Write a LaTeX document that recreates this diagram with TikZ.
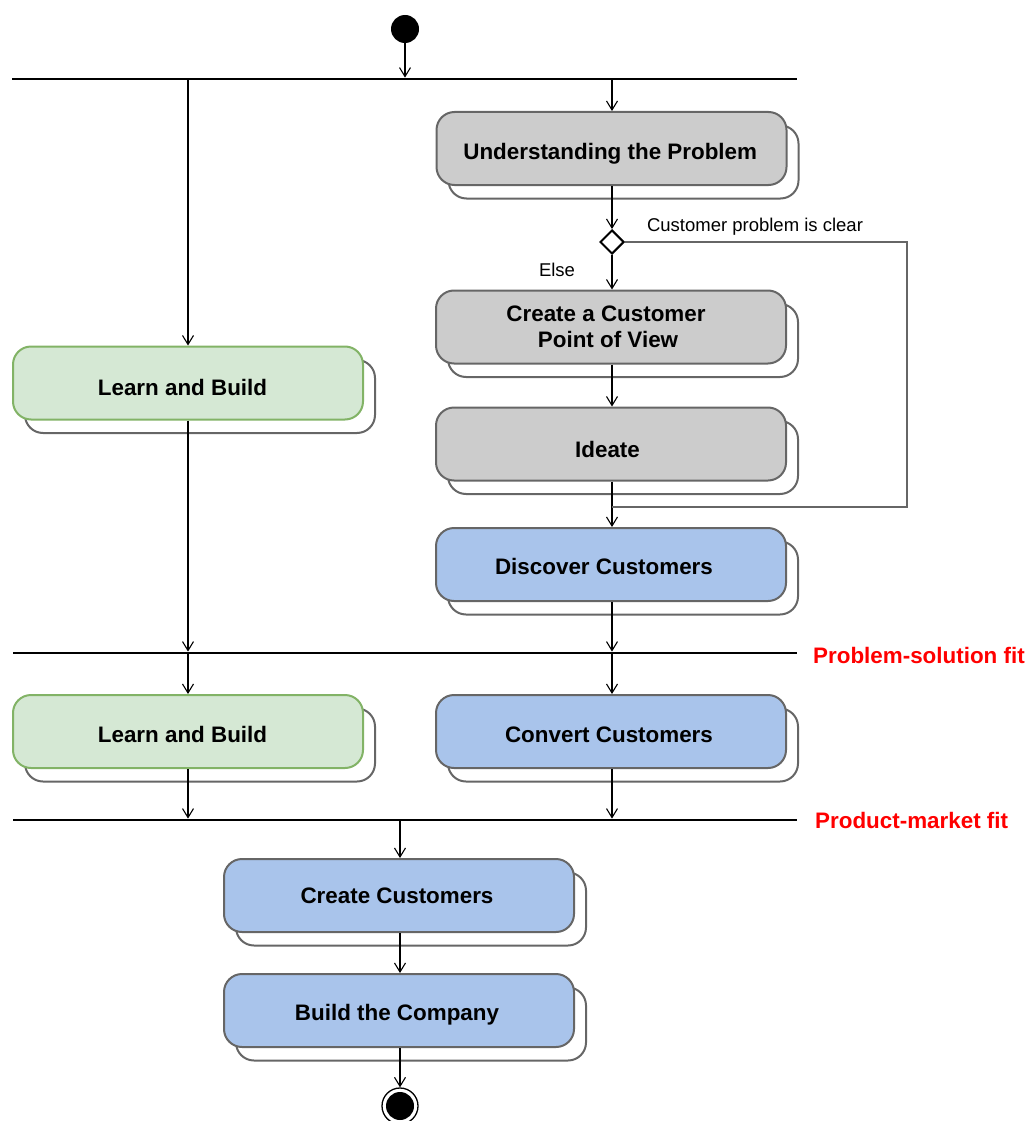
\documentclass[tikz,border=0pt]{standalone}
\usepackage{fontspec}
\setmainfont{Liberation Sans}
\usetikzlibrary{arrows.meta,shapes.geometric,shadows}
\definecolor{strk}{HTML}{666666}
\definecolor{grayfill}{HTML}{CCCCCC}
\definecolor{bluefill}{HTML}{A9C4EB}
\definecolor{greenfill}{HTML}{D5E8D4}
\definecolor{greenstroke}{HTML}{82B366}
\newcommand{\rpad}[1]{\rule{#1}{0pt}}
\begin{document}
\begin{tikzpicture}[x=1pt,y=-1pt,
 box/.style={rectangle, rounded corners=18pt, minimum width=350pt, minimum height=73pt, line width=2pt, draw=strk, align=center, font=\fontsize{22.4}{26}\selectfont\bfseries, copy shadow={shadow xshift=12pt, shadow yshift=-13.5pt, fill=white, draw=strk, line width=2pt}},
 graybox/.style={box, fill=grayfill},
 bluebox/.style={box, fill=bluefill},
 greenbox/.style={box, fill=greenfill, draw=greenstroke},
 tsh/.style={text height=#1, text depth=4.7pt},
 bar/.style={rectangle, fill=black, inner sep=0pt, minimum height=2.4pt},
 flow/.style={line width=1.1pt, -{Straight Barb[length=9pt,width=11pt]}},
 fb/.style={line width=1.8pt, draw=strk},
 lbl/.style={font=\fontsize{18.5}{22}\selectfont, inner sep=0pt},
 fit/.style={anchor=west, inner sep=0pt, text=red, font=\fontsize{22.4}{26}\selectfont\bfseries}
]
\useasboundingbox (0,0) rectangle (1032,1121);

\node[circle, fill=black, minimum size=28pt, inner sep=0pt] (start) at (405,29) {};
\node[bar, minimum width=785pt] (bar1) at (404.5,79) {};

\node[graybox, tsh=27.3pt] (und) at (611.5,148.5) {Understanding the Problem\rpad{2.6pt}};
\node[diamond, draw, fill=white, line width=2pt, minimum size=24pt, inner sep=0pt] (dia) at (612,242) {};
\node[graybox] (cpv) at (611,327) {Create a Customer\rpad{10pt}\\ Point of View\rpad{6pt}};
\node[graybox, tsh=31.3pt] (ide) at (611,444) {Ideate\rpad{7pt}};
\node[bluebox, tsh=24.7pt] (disc) at (611,564.5) {Discover Customers\rpad{14pt}};
\node[greenbox, tsh=29.1pt] (lb1) at (188,383) {Learn and Build\rpad{11pt}};

\node[bar, minimum width=784pt] (bar2) at (405,653) {};
\node[greenbox, tsh=25.7pt] (lb2) at (188,731.5) {Learn and Build\rpad{11pt}};
\node[bluebox, tsh=25.7pt] (conv) at (611,731.5) {Convert Customers\rpad{4pt}};
\node[bar, minimum width=784pt] (bar3) at (405,820) {};

\node[bluebox, tsh=20.7pt] (cc) at (399,895.5) {Create Customers\rpad{4pt}};
\node[bluebox, tsh=24.1pt] (btc) at (399,1010.5) {Build the Company\rpad{4pt}};

\node[circle, draw, fill=white, line width=1.3pt, minimum size=36pt, inner sep=0pt,
  path picture={\fill[black] (path picture bounding box.center) circle (14pt);}] (end) at (400,1106) {};

\node[lbl] (clear) at (755,227) {Customer problem is clear};
\node[lbl] (else) at (557,270) {Else};
\node[fit] (psf) at (813,655) {Problem-solution fit};
\node[fit] (pmf) at (815,820) {Product-market fit};

\coordinate (fbc) at (907,507);
\coordinate (join) at (612,507);

\draw[flow] (start) -- (start |- bar1.north);
\draw[flow] (bar1.south -| lb1) -- (lb1.north);
\draw[flow] (bar1.south -| dia) -- (und.north -| dia);
\draw[flow] (und.south -| dia) -- (dia.north);
\draw[flow] (dia.south) -- (cpv.north -| dia);
\draw[flow] (cpv.south -| dia) -- (ide.north -| dia);
\draw[flow] (ide.south -| dia) -- (disc.north -| dia);
\draw[fb] (dia.east) -| (fbc) -- (join);
\draw[flow] (disc.south -| dia) -- (bar2.north -| dia);
\draw[flow] (lb1.south) -- (lb1.south |- bar2.north);
\draw[flow] (bar2.south -| lb2) -- (lb2.north);
\draw[flow] (bar2.south -| dia) -- (conv.north -| dia);
\draw[flow] (lb2.south) -- (lb2.south |- bar3.north);
\draw[flow] (conv.south -| dia) -- (bar3.north -| dia);
\draw[flow] (bar3.south -| end) -- (cc.north -| end);
\draw[flow] (cc.south -| end) -- (btc.north -| end);
\draw[flow] (btc.south -| end) -- (end.north);
\end{tikzpicture}
\end{document}
